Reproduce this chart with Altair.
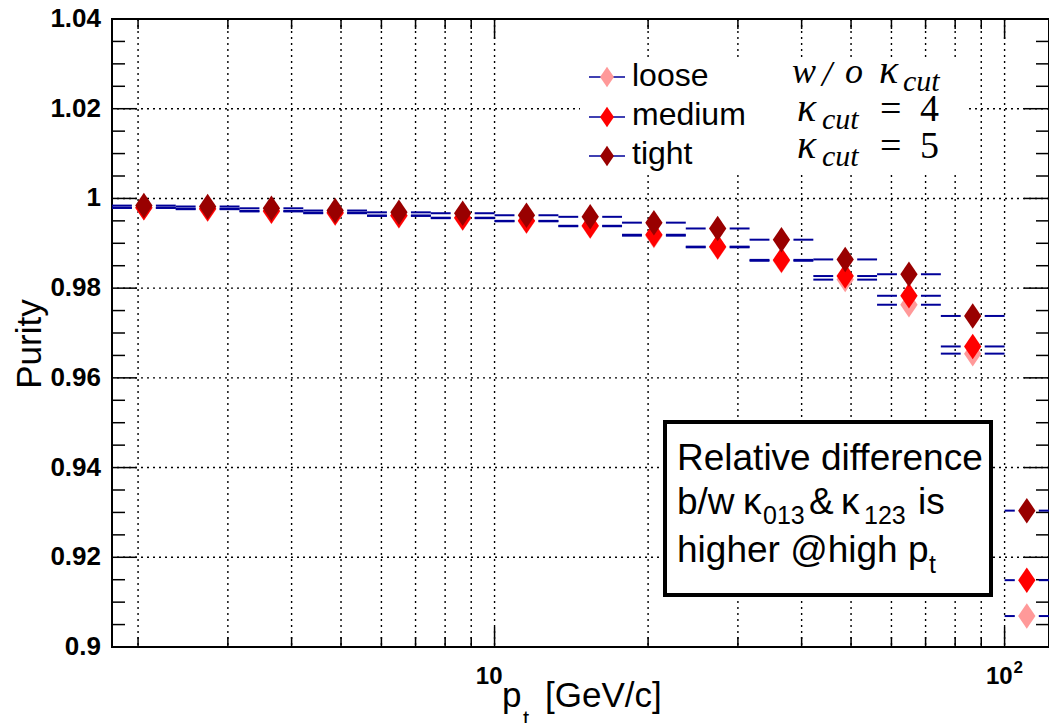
import altair as alt
import pandas as pd
import numpy as np

# ---------------- data ----------------
bin_lo = [1.778, 2.371, 3.162, 4.217, 5.623, 7.499, 10.0, 13.34, 17.78, 23.71, 31.62, 42.17, 56.23, 74.99, 100.0]
bin_hi = [2.371, 3.162, 4.217, 5.623, 7.499, 10.0, 13.34, 17.78, 23.71, 31.62, 42.17, 56.23, 74.99, 100.0, 122.2]

purity_loose = [0.9979, 0.9976, 0.9971, 0.9967, 0.9961, 0.9956, 0.9949, 0.9938, 0.9917, 0.9891, 0.9861, 0.9819, 0.9763, 0.9654, 0.9069]
purity_medium = [0.9979, 0.9977, 0.9972, 0.9968, 0.9962, 0.9957, 0.9950, 0.9939, 0.9919, 0.98925, 0.9863, 0.9827, 0.9783, 0.9670, 0.9149]
purity_tight = [0.9984, 0.9982, 0.9978, 0.9973, 0.9969, 0.9967, 0.99625, 0.9959, 0.9946, 0.9933, 0.9908, 0.9864, 0.9831, 0.9738, 0.9304]

series_names = ["loose", "medium", "tight"]
series_colors = ["#ff9999", "#ff0000", "#990000"]

y_major = [0.9, 0.92, 0.94, 0.96, 0.98, 1.0, 1.02, 1.04]
y_labels = ["0.9", "0.92", "0.94", "0.96", "0.98", "1", "1.02", "1.04"]
y_minor = [0.905, 0.91, 0.915, 0.925, 0.93, 0.935, 0.945, 0.95, 0.955, 0.965, 0.97, 0.975,
           0.985, 0.99, 0.995, 1.005, 1.01, 1.015, 1.025, 1.03, 1.035]
x_major = [10, 100]
x_label_base = ["10", "10"]
x_label_exp = ["", "2"]
x_minor = [2, 3, 4, 5, 6, 7, 8, 9, 20, 30, 40, 50, 60, 70, 80, 90]

# ---------------- layout ----------------
OX, OY = 112, 19
W, H = 937, 628
BLUE = "#000099"
SANS = "Liberation Sans"
SERIF = "Liberation Serif"

xscale = alt.Scale(type="log", domain=[bin_lo[0], bin_hi[-1]], nice=False)
yscale = alt.Scale(domain=[0.9, 1.04], nice=False, zero=False)
cscale = alt.Scale(domain=series_names, range=series_colors)

# points and error-bar segments
gap = 10 ** (12 / 510)  # marker gap in the x error bar
rows, segs = [], []
for name, vals in zip(series_names, [purity_loose, purity_medium, purity_tight]):
    for lo, hi, v in zip(bin_lo, bin_hi, vals):
        c = float(np.sqrt(lo * hi))
        rows.append({"series": name, "pt": c, "purity": v})
        segs.append({"series": name, "a": lo, "b": c / gap, "purity": v})
        segs.append({"series": name, "a": c * gap, "b": hi, "purity": v})
pts = pd.DataFrame(rows)
seg = pd.DataFrame(segs)

DIAMOND = "M0,-1L0.68,0L0,1L-0.68,0Z"

# grid
vgrid = alt.Chart(pd.DataFrame({"x": x_minor + x_major})).mark_rule(
    color="black", strokeDash=[2, 4], strokeWidth=1.4).encode(
    x=alt.X("x:Q", scale=xscale, axis=None))
hgrid = alt.Chart(pd.DataFrame({"y": y_major})).mark_rule(
    color="black", strokeDash=[2, 4], strokeWidth=1.4).encode(
    y=alt.Y("y:Q", scale=yscale, axis=None))

# inward ticks
def yticks(vals, length, right=False):
    x0, x1 = (W - length, W) if right else (0, length)
    return alt.Chart(pd.DataFrame({"y": vals})).mark_rule(color="black", strokeWidth=1.5).encode(
        y=alt.Y("y:Q", scale=yscale, axis=None), x=alt.value(x0), x2=alt.value(x1))

def xticks(vals, length, top=False):
    y0, y1 = (0, length) if top else (H - length, H)
    return alt.Chart(pd.DataFrame({"x": vals})).mark_rule(color="black", strokeWidth=1.5).encode(
        x=alt.X("x:Q", scale=xscale, axis=None), y=alt.value(y0), y2=alt.value(y1))

ticks = [yticks(y_major, 25), yticks(y_minor, 13), yticks(y_major, 25, True), yticks(y_minor, 13, True),
         xticks(x_major, 20), xticks(x_minor, 10), xticks(x_major, 20, True), xticks(x_minor, 10, True)]

# tick labels
ylab = alt.Chart(pd.DataFrame({"v": y_major, "lab": y_labels})).mark_text(
    align="right", baseline="middle", font=SANS, fontWeight="bold", fontSize=26, color="black").encode(
    y=alt.Y("v:Q", scale=yscale, axis=None), x=alt.value(-11), text="lab:N")
xlab = alt.Chart(pd.DataFrame({"v": x_major, "lab": x_label_base})).mark_text(
    align="right", baseline="alphabetic", font=SANS, fontWeight="bold", fontSize=24, color="black", dx=8).encode(
    x=alt.X("v:Q", scale=xscale, axis=None), y=alt.value(H + 37), text="lab:N")
xexp = alt.Chart(pd.DataFrame({"v": x_major, "lab": x_label_exp})).mark_text(
    align="left", baseline="alphabetic", font=SANS, fontWeight="bold", fontSize=17, color="black", dx=9).encode(
    x=alt.X("v:Q", scale=xscale, axis=None), y=alt.value(H + 26), text="lab:N")

# error bars
bars = alt.Chart(seg).mark_rule(color=BLUE, strokeWidth=2, clip=True).encode(
    x=alt.X("a:Q", scale=xscale, axis=None),
    x2="b:Q",
    y=alt.Y("purity:Q", scale=yscale, axis=None))

# markers
markers = alt.Chart(pts).mark_point(shape=DIAMOND, filled=True, size=650, opacity=1, clip=True).encode(
    x=alt.X("pt:Q", scale=xscale, axis=None),
    y=alt.Y("purity:Q", scale=yscale, axis=None),
    color=alt.Color("series:N", scale=cscale, legend=None))

# legend box
def px(v):
    return v - OX

def py(v):
    return v - OY

legend_bg = alt.Chart(pd.DataFrame({"x": [px(580)], "x2": [px(965)], "y": [py(57)], "y2": [py(173)]})).mark_rect(
    fill="white").encode(x=alt.X("x:Q", scale=None, axis=None), x2="x2:Q",
                         y=alt.Y("y:Q", scale=None, axis=None), y2="y2:Q")
leg_y = [77, 117, 156]
leg_lines = alt.Chart(pd.DataFrame({"x": [px(589)] * 3, "x2": [px(625)] * 3, "y": [py(v) for v in leg_y]})).mark_rule(
    color=BLUE, strokeWidth=1.5).encode(x=alt.X("x:Q", scale=None, axis=None), x2="x2:Q",
                                        y=alt.Y("y:Q", scale=None, axis=None))
leg_marks = alt.Chart(pd.DataFrame({"x": [px(607)] * 3, "y": [py(v) for v in leg_y], "series": series_names})).mark_point(
    shape=DIAMOND, filled=True, size=420, opacity=1).encode(
    x=alt.X("x:Q", scale=None, axis=None), y=alt.Y("y:Q", scale=None, axis=None),
    color=alt.Color("series:N", scale=cscale, legend=None))

# text box
box = alt.Chart(pd.DataFrame({"x": [px(665)], "x2": [px(991)], "y": [py(422)], "y2": [py(595)]})).mark_rect(
    fill="white", stroke="black", strokeWidth=4).encode(
    x=alt.X("x:Q", scale=None, axis=None), x2="x2:Q", y=alt.Y("y:Q", scale=None, axis=None), y2="y2:Q")

def texts(items, font, style="normal", weight="normal"):
    df = pd.DataFrame([{"t": t, "x": px(x), "y": py(y), "s": s} for t, x, y, s in items])
    return alt.Chart(df).mark_text(align="left", baseline="alphabetic", font=font, fontStyle=style,
                                   fontWeight=weight, color="black").encode(
        x=alt.X("x:Q", scale=None, axis=None), y=alt.Y("y:Q", scale=None, axis=None),
        text="t:N", size=alt.Size("s:Q", scale=None, legend=None))

sans_items = [
    ("loose", 632, 86, 32), ("medium", 632, 125, 32), ("tight", 632, 164, 32),
    ("Relative difference", 677, 470, 37),
    ("b/w", 677, 514, 37), ("κ", 743, 514, 37), ("013", 763, 524, 25), ("&", 809, 514, 37),
    ("κ", 841, 514, 37), ("123", 864, 524, 25), ("is", 918, 514, 37),
    ("higher @high p", 677, 562, 37), ("t", 929, 573, 25),
    ("p", 502, 707, 35), ("t", 523, 726, 22), ("[GeV/c]", 545, 707, 35),
]
serif_it_items = [
    ("w", 792, 83, 36), ("/", 822, 86, 36), ("o", 845, 83, 36), ("κ", 879, 83, 40), ("cut", 903, 91, 30),
    ("κ", 797, 121, 40), ("cut", 822, 129, 30),
    ("κ", 797, 158, 40), ("cut", 822, 166, 30),
]
serif_items = [
    ("=", 880, 121, 38), ("4", 920, 121, 38),
    ("=", 880, 158, 38), ("5", 920, 158, 38),
]

t_sans = texts(sans_items, SANS)
t_it = texts(serif_it_items, SERIF, style="italic")
t_up = texts(serif_items, SERIF)

purity_title = alt.Chart(pd.DataFrame({"t": ["Purity"], "x": [px(41)], "y": [py(344)]})).mark_text(
    align="center", baseline="alphabetic", angle=270, font=SANS, fontSize=35, color="black").encode(
    x=alt.X("x:Q", scale=None, axis=None), y=alt.Y("y:Q", scale=None, axis=None), text="t:N")

chart = alt.layer(
    vgrid, hgrid, *ticks, bars, markers, ylab, xlab, xexp,
    legend_bg, leg_lines, leg_marks, box, t_sans, t_it, t_up, purity_title
).properties(
    width=W, height=H,
    padding={"left": OX, "top": OY, "right": 0, "bottom": 723 - OY - H},
    autosize=alt.AutoSizeParams(type="none"),
    background="white",
).configure_view(stroke="black", strokeWidth=2)

chart.save("out.html", embed_options={"renderer": "svg", "actions": False})
